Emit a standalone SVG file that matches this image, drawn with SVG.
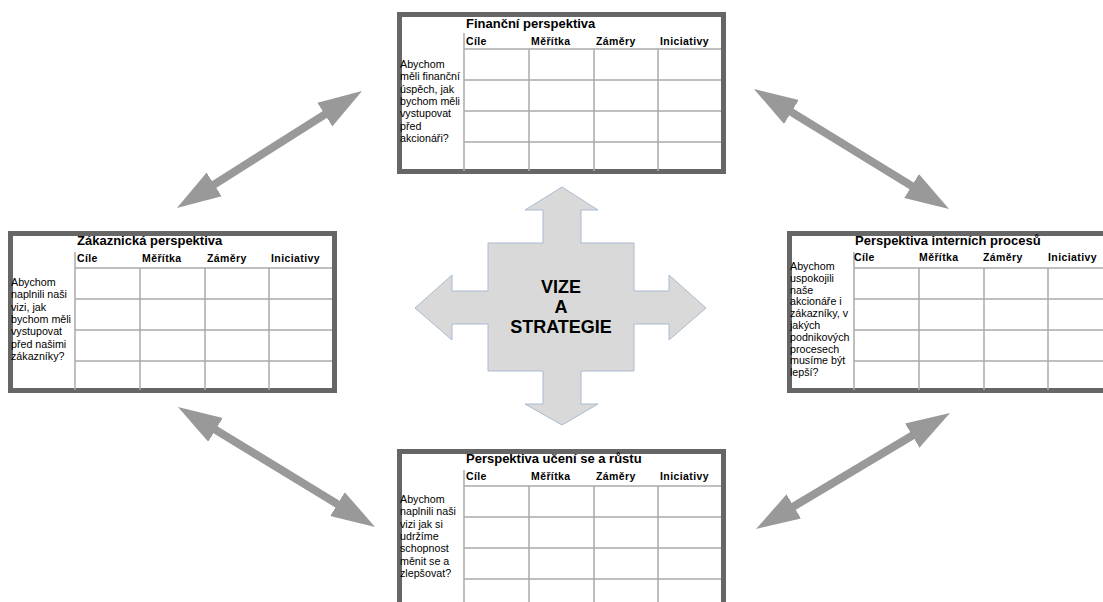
<svg xmlns="http://www.w3.org/2000/svg" xmlns:xlink="http://www.w3.org/1999/xlink" width="1103" height="602" viewBox="0 0 1103 602">
  <style>
    .frame { fill: #ffffff; stroke: #666666; stroke-width: 5; }
    .grid { stroke: #aaaaaa; stroke-width: 1.5; fill: none; }
    .title { font-family: "Liberation Sans", Arial, sans-serif; font-size: 13px; font-weight: bold; fill: #000; }
    .head { font-family: "Liberation Sans", Arial, sans-serif; font-size: 10.5px; font-weight: bold; fill: #000; letter-spacing: 0.4px; }
    .side { font-family: "Liberation Sans", Arial, sans-serif; font-size: 10.7px; fill: #000; }
    .core { font-family: "Liberation Sans", Arial, sans-serif; font-size: 18px; font-weight: bold; fill: #000; text-anchor: middle; }
    .link { stroke: #999999; stroke-width: 8; fill: none; marker-start: url(#head); marker-end: url(#head); }
  </style>
  <defs>
    <marker id="head" markerUnits="userSpaceOnUse" viewBox="0 0 44 30" markerWidth="44" markerHeight="30" refX="10" refY="15" orient="auto-start-reverse">
      <path d="M0,1 L44,15 L0,29 Z" fill="#999999"/>
    </marker>
    <!-- perspective card: frame, question column and 4x4 grid -->
    <g id="card">
      <rect class="frame" x="2.5" y="2.5" width="324" height="157"/>
      <path class="grid" d="M67,21 V159 M132,37 V159 M197,37 V159 M261,37 V159 M67,37 H324 M67,68 H324 M67,99 H324 M67,130 H324"/>
    </g>
  </defs>

  <!-- connectors between the perspectives -->
  <g id="connectors">
    <line class="link" x1="205.7" y1="189.8" x2="333.3" y2="109.2"/>
    <line class="link" x1="782.9" y1="106.8" x2="920.1" y2="191.2"/>
    <line class="link" x1="785.2" y1="511.5" x2="920.8" y2="430.5"/>
    <line class="link" x1="207.0" y1="424.7" x2="346.0" y2="509.3"/>
  </g>

  <!-- central cross -->
  <g id="vize">
    <path d="M562,187 L598,210 L581,210 L581,243 L634,243 L634,291 L669,291 L669,275 L706,308 L669,340 L669,324 L634,324 L634,371 L581,371 L581,404 L598,404 L562,425 L525,404 L543,404 L543,371 L488,371 L488,324 L452,324 L452,340 L415,308 L452,275 L452,291 L488,291 L488,243 L543,243 L543,210 L525,210 Z" fill="#d9d9d9" stroke="#a9bbd0" stroke-width="1"/>
    <text class="core" x="561" y="293">VIZE</text>
    <text class="core" x="561" y="313">A</text>
    <text class="core" x="561" y="333">STRATEGIE</text>
  </g>

  <!-- financial perspective -->
  <g id="financni" transform="translate(397,12)">
    <use xlink:href="#card"/>
    <text class="title" x="69" y="16">Finanční perspektiva</text>
    <text class="head" y="33"><tspan x="69">Cíle</tspan><tspan x="134">Měřítka</tspan><tspan x="199">Záměry</tspan><tspan x="263">Iniciativy</tspan></text>
    <text class="side" x="3">
      <tspan x="3" y="56">Abychom</tspan>
      <tspan x="3" y="68.3">měli finanční</tspan>
      <tspan x="3" y="80.6">úspěch, jak</tspan>
      <tspan x="3" y="92.9">bychom měli</tspan>
      <tspan x="3" y="105.2">vystupovat</tspan>
      <tspan x="3" y="117.5">před</tspan>
      <tspan x="3" y="129.8">akcionáři?</tspan>
    </text>
  </g>

  <!-- customer perspective -->
  <g id="zakaznicka" transform="translate(8,231)">
    <use xlink:href="#card"/>
    <text class="title" x="69" y="14">Zákaznická perspektiva</text>
    <text class="head" y="31"><tspan x="69">Cíle</tspan><tspan x="134">Měřítka</tspan><tspan x="199">Záměry</tspan><tspan x="263">Iniciativy</tspan></text>
    <text class="side" x="3">
      <tspan x="3" y="55">Abychom</tspan>
      <tspan x="3" y="67.3">naplnili naši</tspan>
      <tspan x="3" y="79.6">vizi, jak</tspan>
      <tspan x="3" y="91.9">bychom měli</tspan>
      <tspan x="3" y="104.2">vystupovat</tspan>
      <tspan x="3" y="116.5">před našimi</tspan>
      <tspan x="3" y="128.8">zákazníky?</tspan>
    </text>
  </g>

  <!-- internal process perspective -->
  <g id="interni" transform="translate(787,231)">
    <use xlink:href="#card"/>
    <text class="title" x="68" y="14">Perspektiva interních procesů</text>
    <text class="head" y="30"><tspan x="67">Cíle</tspan><tspan x="132">Měřítka</tspan><tspan x="196">Záměry</tspan><tspan x="261">Iniciativy</tspan></text>
    <text class="side" x="3">
      <tspan x="3" y="39">Abychom</tspan>
      <tspan x="3" y="50.8">uspokojili</tspan>
      <tspan x="3" y="62.6">naše</tspan>
      <tspan x="3" y="74.4">akcionáře i</tspan>
      <tspan x="3" y="86.2">zákazníky, v</tspan>
      <tspan x="3" y="98">jakých</tspan>
      <tspan x="3" y="109.8">podnikových</tspan>
      <tspan x="3" y="121.6">procesech</tspan>
      <tspan x="3" y="133.4">musíme být</tspan>
      <tspan x="3" y="145.2">lepší?</tspan>
    </text>
  </g>

  <!-- learning and growth perspective -->
  <g id="uceni" transform="translate(397,449)">
    <use xlink:href="#card"/>
    <text class="title" x="69" y="14">Perspektiva učení se a růstu</text>
    <text class="head" y="31"><tspan x="69">Cíle</tspan><tspan x="134">Měřítka</tspan><tspan x="199">Záměry</tspan><tspan x="263">Iniciativy</tspan></text>
    <text class="side" x="3">
      <tspan x="3" y="54">Abychom</tspan>
      <tspan x="3" y="66.3">naplnili naši</tspan>
      <tspan x="3" y="78.6">vizi jak si</tspan>
      <tspan x="3" y="90.9">udržíme</tspan>
      <tspan x="3" y="103.2">schopnost</tspan>
      <tspan x="3" y="115.5">měnit se a</tspan>
      <tspan x="3" y="127.8">zlepšovat?</tspan>
    </text>
  </g>
</svg>
